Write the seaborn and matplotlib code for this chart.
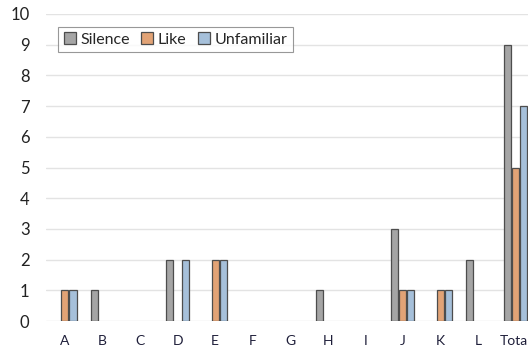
import numpy as np
import pandas as pd
import matplotlib
matplotlib.use("Agg")
import matplotlib.pyplot as plt
import seaborn as sns

# Data
categories = ["A", "B", "C", "D", "E", "F", "G", "H", "I", "J", "K", "L", "Total"]
silence = [0, 1, 0, 2, 0, 0, 0, 1, 0, 3, 0, 2, 9]
like = [1, 0, 0, 0, 2, 0, 0, 0, 0, 1, 1, 0, 5]
unfamiliar = [1, 0, 0, 2, 2, 0, 0, 0, 0, 1, 1, 0, 7]

series = ["Silence", "Like", "Unfamiliar"]
colors = ["#A5A5A5", "#F4A064", "#9DC0E3"]

sns.set_theme(style="white")
plt.rcParams['font.family'] = ['Lato', 'DejaVu Sans']

df = pd.DataFrame({
    "cat": categories * 3,
    "series": [s for s in series for _ in categories],
    "value": silence + like + unfamiliar,
})
# zero bars are not drawn in the original
df["value"] = df["value"].replace(0, np.nan)

fig = plt.figure(figsize=(5.28, 3.48), dpi=100)
# plot area runs past the right edge, as in the original (Total is cut off)
ax = fig.add_axes([46.2 / 528, 27 / 348, 488 / 528, 307 / 348])

sns.barplot(data=df, x="cat", y="value", hue="series", order=categories,
            hue_order=series, palette=colors, width=0.64, gap=0.12,
            edgecolor="#4D4D4D", linewidth=0.9, ax=ax)

ax.set_ylim(0, 10)
ax.set_xlim(-0.5, 12.5)
ax.set_yticks(range(0, 11))
ax.yaxis.grid(True, color="#E3E3E3", linewidth=1)
ax.set_axisbelow(True)
for s in ax.spines.values():
    s.set_visible(False)
ax.set_xlabel("")
ax.set_ylabel("")
ax.tick_params(axis="y", labelsize=12, colors="#222222", length=0, pad=12)
ax.tick_params(axis="x", labelsize=10, colors="#1F1F3A", length=0, pad=10)

leg = ax.legend(loc="upper left", bbox_to_anchor=(11.8 / 488, 0.958), ncol=3,
                fontsize=11.5, frameon=True, fancybox=False, handlelength=0.75,
                handleheight=0.75, handletextpad=0.3, columnspacing=0.7,
                borderpad=0.35, borderaxespad=0)
leg.get_frame().set_edgecolor("#7F7F7F")
leg.get_frame().set_linewidth(0.8)

fig.savefig("out.png", dpi=100)
